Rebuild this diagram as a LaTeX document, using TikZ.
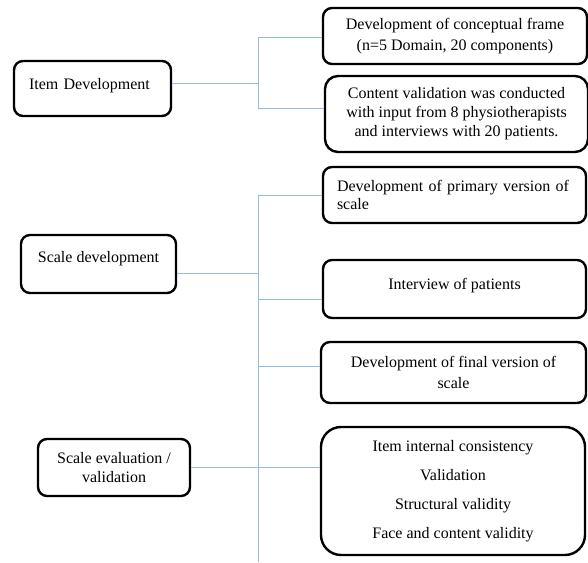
\documentclass[tikz,border=0pt]{standalone}
\usepackage{fontspec}
\setmainfont{Liberation Serif}
\usepackage{xcolor}
\usetikzlibrary{positioning}

\definecolor{linkblue}{RGB}{146,188,232}

\begin{document}
\begin{tikzpicture}[
  x=1pt, y=1pt,
  every node/.style={font=\fontsize{16}{20}\selectfont},
  stage/.style={draw, line width=2.4pt, rounded corners=9pt, align=center, inner sep=4pt},
  task/.style={draw, line width=2.4pt, rounded corners=9pt, align=center, inner sep=4pt, minimum width=263pt},
  link/.style={linkblue, line width=1pt}
]
\useasboundingbox (0,0) rectangle (588,562);

% Stages
\node[stage, align=left, text width=127pt, inner xsep=15pt, minimum height=55pt, text depth=10pt] (item) at (92.5,473.5) {Item Development};
\node[stage, minimum width=155pt, minimum height=58pt, text depth=15pt] (scaledev) at (98.5,298) {Scale development};
\node[stage, minimum width=152pt, minimum height=57pt, font=\fontsize{16}{19}\selectfont] (evaluation) at (114,94.5) {Scale evaluation /\\validation};

% Tasks
\node[task, minimum width=264pt, minimum height=56pt, font=\fontsize{16}{21}\selectfont] (frame) at (455,526) {Development of conceptual frame\\(n=5 Domain, 20 components)};
\node[task, minimum height=76pt, rounded corners=13pt, font=\fontsize{16}{19}\selectfont] (content) at (456.5,448) {Content validation was conducted\\with input from 8 physiotherapists\\and interviews with 20 patients.};
\node[task, align=left, text width=235pt, inner xsep=14pt, minimum height=56pt, font=\fontsize{16}{18}\selectfont] (primary) at (454.5,367) {Development of primary version of\\scale};
\node[task, minimum height=58pt, text depth=11pt] (interview) at (454.5,273) {Interview of patients};
\node[task, minimum width=265pt, minimum height=61pt, font=\fontsize{16}{21}\selectfont] (final) at (453.5,189.5) {Development of final version of\\scale};
\node[task, minimum width=264pt, minimum height=128pt, rounded corners=20pt, font=\fontsize{16}{29}\selectfont] (validity) at (453,71) {Item internal consistency\\Validation\\Structural validity\\Face and content validity};

% Forks
\coordinate (itemtop) at (258,524.5);
\coordinate (itemmid) at (258,478);
\coordinate (itembot) at (258,453);
\coordinate (scaletop) at (258,366);
\coordinate (scalemid) at (258,288);
\coordinate (scaleint) at (258,262.5);
\coordinate (scalefin) at (258,195);
\coordinate (scaleend) at (258,0);

% Connectors
\draw[link] (item.east |- itemmid) -- (itemmid);
\draw[link] (itemtop) -- (itembot);
\draw[link] (itemtop) -- (itemtop -| frame.west);
\draw[link] (itembot) -- (itembot -| content.west);

\draw[link] (scaledev.east |- scalemid) -- (scalemid);
\draw[link] (scaletop) -- (scaleend);
\draw[link] (scaletop) -- (scaletop -| primary.west);
\draw[link] (scaleint) -- (scaleint -| interview.west);
\draw[link] (scalefin) -- (scalefin -| final.west);
\draw[link] (evaluation.east) -- (evaluation.east -| validity.west);

\end{tikzpicture}
\end{document}
